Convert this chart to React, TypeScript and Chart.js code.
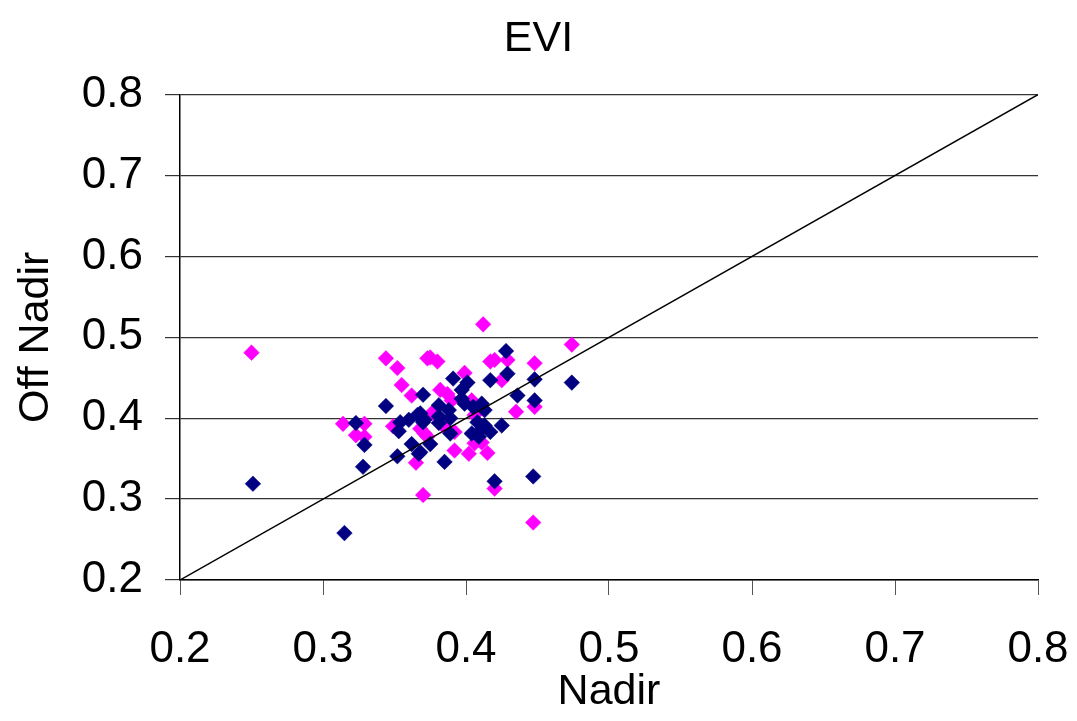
import React, { useEffect, useRef } from "react";
import { Chart, registerables } from "chart.js";

Chart.register(...registerables);

const chartTitle = "EVI";
const xAxisTitle = "Nadir";
const yAxisTitle = "Off Nadir";
const axisMin = 0.2;
const axisMax = 0.8;
const axisStep = 0.1;

const identityLine: [number, number][] = [
  [0.2, 0.2],
  [0.8, 0.8],
];

const navySeries: [number, number][] = [
  [0.370, 0.429], [0.344, 0.415], [0.323, 0.394], [0.329, 0.367], [0.328, 0.340],
  [0.251, 0.319], [0.315, 0.258], [0.354, 0.395], [0.353, 0.384], [0.362, 0.368],
  [0.352, 0.353], [0.367, 0.356], [0.366, 0.404], [0.370, 0.395], [0.474, 0.444],
  [0.428, 0.483], [0.429, 0.455], [0.417, 0.447], [0.448, 0.448], [0.436, 0.428],
  [0.448, 0.422], [0.425, 0.391], [0.420, 0.322], [0.447, 0.328], [0.391, 0.449],
  [0.401, 0.444], [0.397, 0.435], [0.381, 0.416], [0.388, 0.410], [0.399, 0.418],
  [0.405, 0.414], [0.411, 0.418], [0.413, 0.410], [0.371, 0.398], [0.381, 0.394],
  [0.389, 0.400], [0.389, 0.381], [0.368, 0.358], [0.375, 0.368], [0.385, 0.346],
  [0.404, 0.381], [0.410, 0.385], [0.413, 0.391], [0.409, 0.377], [0.408, 0.395],
  [0.360, 0.398], [0.381, 0.402], [0.417, 0.383], [0.368, 0.406], [0.397, 0.424],
];

const magentaSeries: [number, number][] = [
  [0.250, 0.481], [0.344, 0.474], [0.352, 0.462], [0.355, 0.441], [0.362, 0.428],
  [0.373, 0.474], [0.314, 0.393], [0.329, 0.393], [0.323, 0.379], [0.329, 0.377],
  [0.349, 0.390], [0.368, 0.387], [0.373, 0.377], [0.365, 0.345], [0.370, 0.305],
  [0.412, 0.516], [0.474, 0.491], [0.417, 0.470], [0.429, 0.472], [0.425, 0.447],
  [0.448, 0.468], [0.435, 0.408], [0.448, 0.414], [0.420, 0.313], [0.447, 0.271],
  [0.375, 0.475], [0.380, 0.470], [0.399, 0.456], [0.382, 0.435], [0.387, 0.430],
  [0.390, 0.422], [0.404, 0.422], [0.406, 0.404], [0.392, 0.383], [0.371, 0.381],
  [0.392, 0.360], [0.402, 0.356], [0.415, 0.357], [0.406, 0.369], [0.411, 0.370],
  [0.420, 0.472], [0.376, 0.406], [0.384, 0.391],
];

const toPoints = (arr: [number, number][]) => arr.map(([x, y]) => ({ x, y }));

export default function App() {
  const canvasRef = useRef<HTMLCanvasElement | null>(null);

  useEffect(() => {
    if (!canvasRef.current) return;
    const font = "'Liberation Sans', Arial, sans-serif";
    const chart = new Chart(canvasRef.current, {
      type: "scatter",
      data: {
        datasets: [
          {
            type: "line",
            label: "1:1",
            data: toPoints(identityLine),
            borderColor: "#000000",
            borderWidth: 1.5,
            pointRadius: 0,
            fill: false,
          } as any,
          {
            label: "Series A",
            data: toPoints(navySeries),
            pointStyle: "rectRot",
            pointRadius: 7.8,
            backgroundColor: "#000080",
            borderColor: "#000080",
            borderWidth: 0.5,
          },
          {
            label: "Series B",
            data: toPoints(magentaSeries),
            pointStyle: "rectRot",
            pointRadius: 7.8,
            backgroundColor: "#FF00FF",
            borderColor: "#FF00FF",
            borderWidth: 0.5,
          },
        ],
      },
      options: {
        responsive: false,
        animation: false,
        layout: { padding: { left: 39, right: 39, top: 0, bottom: 0 } },
        plugins: {
          legend: { display: false },
          tooltip: { enabled: false },
          title: {
            display: true,
            text: chartTitle,
            color: "#000000",
            font: { family: font, size: 43, weight: "normal" },
            padding: { top: 13, bottom: 30 },
          },
        },
        scales: {
          x: {
            type: "linear",
            min: axisMin,
            max: axisMax,
            ticks: {
              stepSize: axisStep,
              color: "#000000",
              padding: 28,
              font: { family: font, size: 44 },
              callback: (v: any) => Number(v).toFixed(1),
            },
            grid: {
              drawOnChartArea: false,
              drawTicks: true,
              tickLength: 15,
              color: "#555555",
            },
            border: { display: true, color: "#000000", width: 1.5 },
            title: {
              display: true,
              text: xAxisTitle,
              color: "#000000",
              font: { family: font, size: 43 },
              padding: { top: 0, bottom: 3 },
            },
            afterFit: (scale: any) => {
              scale.height = 141;
              scale.paddingLeft = 0;
              scale.paddingRight = 0;
            },
          },
          y: {
            type: "linear",
            min: axisMin,
            max: axisMax,
            ticks: {
              stepSize: axisStep,
              color: "#000000",
              padding: 22,
              font: { family: font, size: 44 },
              callback: (v: any) => Number(v).toFixed(1),
            },
            grid: {
              drawOnChartArea: true,
              drawTicks: true,
              tickLength: 15,
              color: "#333333",
              lineWidth: 1.2,
            },
            border: { display: true, color: "#000000", width: 1.5 },
            title: {
              display: true,
              text: yAxisTitle,
              color: "#000000",
              font: { family: font, size: 43 },
              padding: { top: -29, bottom: 0 },
            },
            afterFit: (scale: any) => {
              scale.width = 141;
            },
          },
        },
      },
    });
    return () => chart.destroy();
  }, []);

  return (
    <div
      style={{
        position: "fixed",
        left: 0,
        top: 0,
        width: 1077,
        height: 721,
        background: "#ffffff",
      }}
    >
      <canvas ref={canvasRef} width={1077} height={721} />
    </div>
  );
}
